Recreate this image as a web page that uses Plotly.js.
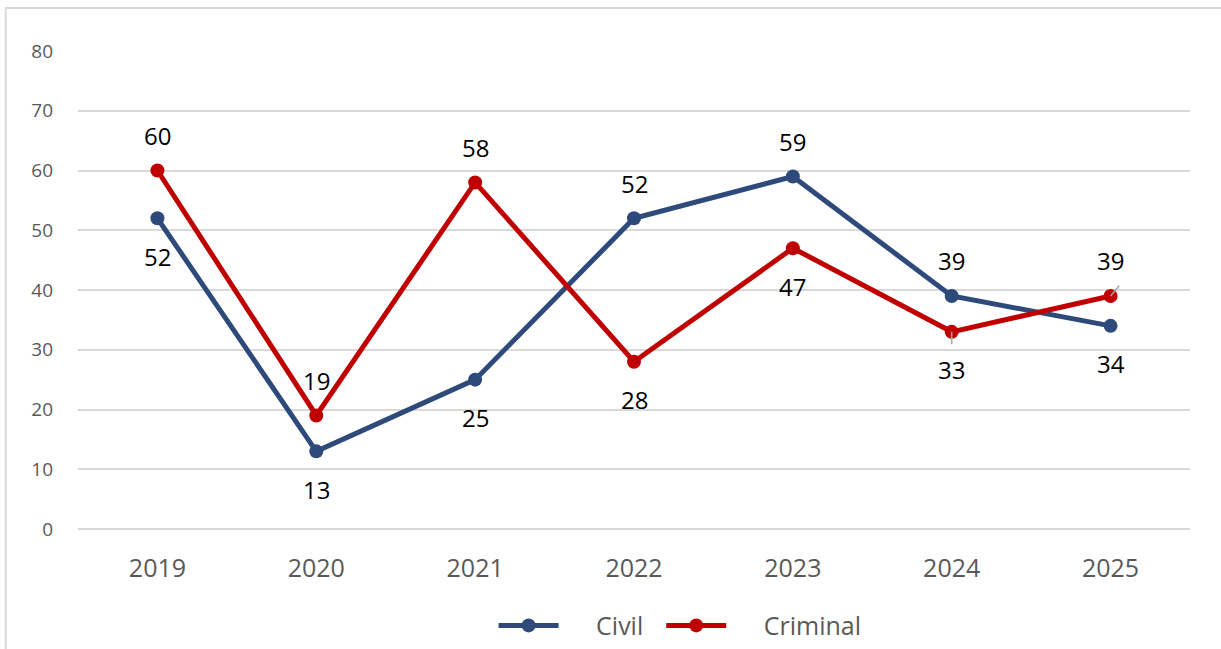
<!DOCTYPE html>
<html><head><meta charset="utf-8">
<script src="https://cdn.plot.ly/plotly-3.0.1.min.js"></script>
<style>html,body{margin:0;padding:0;background:#fff;}#chart{width:1221px;height:649px;}</style>
</head><body><div id="chart"></div>
<script>
const years = ['2019','2020','2021','2022','2023','2024','2025'];
const civil = [52, 13, 25, 52, 59, 39, 34];
const criminal = [60, 19, 58, 28, 47, 33, 39];
const seriesNames = ['Civil', 'Criminal'];
const civilLabelPos = ['below','below','below','above','above','above','below'];
const criminalLabelPos = ['above','above','above','below','below','below','above'];
const yTicks = [0,10,20,30,40,50,60,70,80];

const civilColor = '#2E4A7B';
const crimColor = '#C00000';
const FONT = 'Open Sans, Liberation Sans, sans-serif';
const PAD = '\u00a0\u00a0\u00a0\u00a0\u00a0';
const TAIL = '\u00a0\u00a0';

const traces = [
  {x: years, y: civil, name: PAD + seriesNames[0] + TAIL, type: 'scatter', mode: 'lines+markers',
   line: {color: civilColor, width: 5}, marker: {color: civilColor, size: 14}},
  {x: years, y: criminal, name: PAD + seriesNames[1], type: 'scatter', mode: 'lines+markers',
   line: {color: crimColor, width: 5}, marker: {color: crimColor, size: 14}}
];

const anns = [];
function addLabels(vals, pos) {
  for (let i = 0; i < vals.length; i++) {
    anns.push({xref: 'x', yref: 'y', x: i, y: vals[i], text: String(vals[i]), showarrow: false,
      yshift: pos[i] === 'above' ? 35 : -38,
      font: {family: FONT, size: 24, color: '#000000'}});
  }
}
addLabels(civil, civilLabelPos);
addLabels(criminal, criminalLabelPos);
// leader lines for the two displaced criminal labels (2024, 2025)
anns.push({xref: 'x', yref: 'y', x: 5, y: criminal[5], text: '', showarrow: true, arrowhead: 0,
  arrowwidth: 1.5, arrowcolor: '#a6a6a6', ax: 0, ay: 14, standoff: 0});
anns.push({xref: 'x', yref: 'y', x: 6, y: criminal[6], text: '', showarrow: true, arrowhead: 0,
  arrowwidth: 1.5, arrowcolor: '#a6a6a6', ax: 10, ay: -12, standoff: 0});

const layout = {
  width: 1221, height: 649,
  margin: {l: 78, r: 31, t: 51, b: 120},
  paper_bgcolor: '#fff', plot_bgcolor: '#fff',
  showlegend: true,
  legend: {orientation: 'h', xref: 'container', yref: 'container', x: 0.557, xanchor: 'center',
    y: 0.036, yanchor: 'middle', itemwidth: 60,
    font: {family: FONT, size: 25, color: '#595959'}},
  xaxis: {type: 'category', range: [-0.5, 6.5], showgrid: false, zeroline: false,
    showline: false, ticks: '', tickfont: {family: FONT, size: 25, color: '#595959'},
    ticklabelstandoff: 22},
  yaxis: {range: [0, 80], tickvals: yTicks, showgrid: true, gridcolor: '#d9d9d9', gridwidth: 2,
    zeroline: true, zerolinecolor: '#d9d9d9', zerolinewidth: 2, showline: false, ticks: '', ticklabelstandoff: 24,
    tickfont: {family: FONT, size: 19, color: '#595959'}},
  annotations: anns,
  shapes: [{type: 'rect', xref: 'paper', yref: 'paper', x0: -0.065, x1: 1.2, y0: -0.4, y1: 1.09,
    line: {color: '#d9d9d9', width: 2}, fillcolor: 'rgba(0,0,0,0)', layer: 'below'}]
};
Plotly.newPlot('chart', traces, layout, {displayModeBar: false});
</script></body></html>
